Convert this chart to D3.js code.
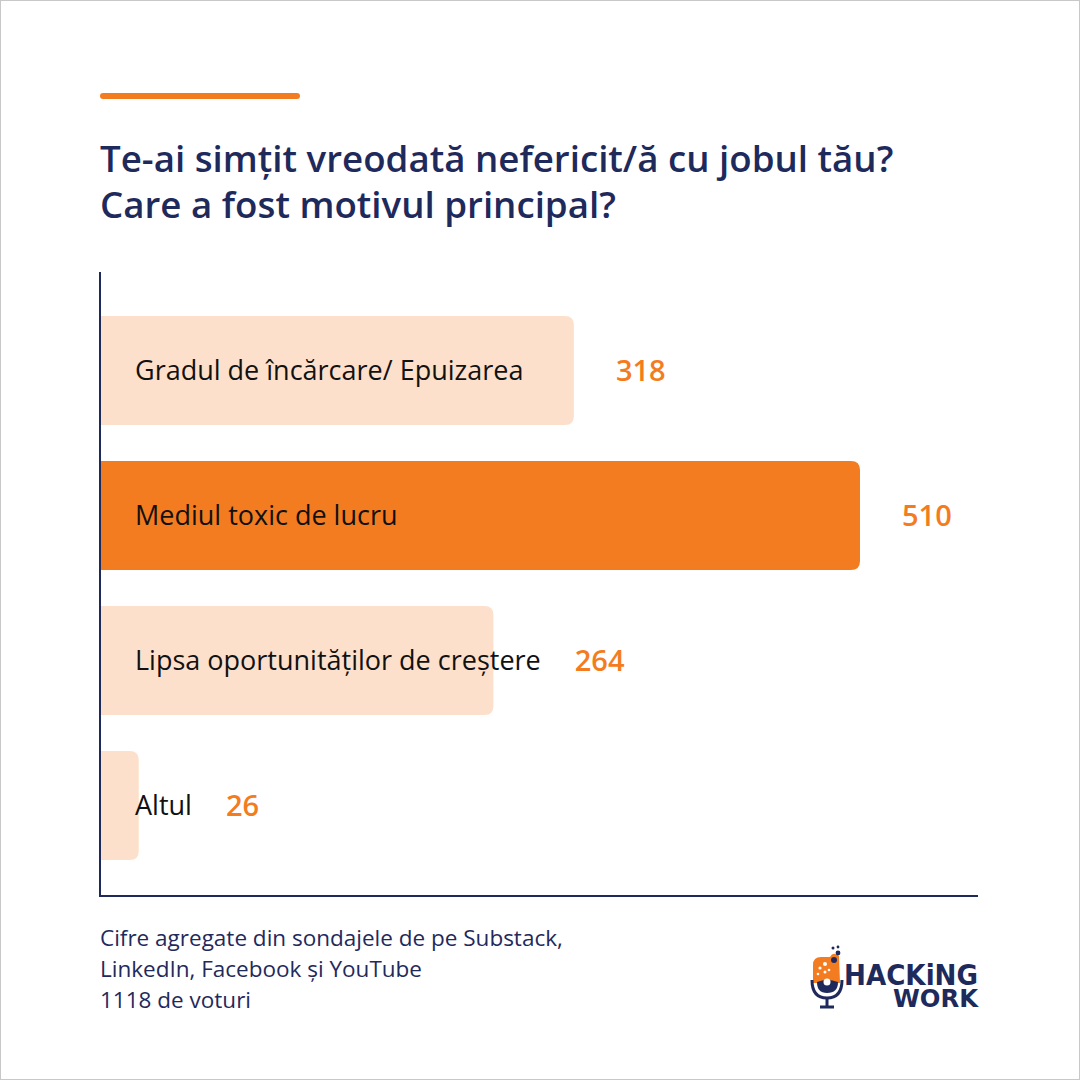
<!DOCTYPE html>
<html>
<head>
<meta charset="utf-8">
<script src="https://cdnjs.cloudflare.com/ajax/libs/d3/7.8.5/d3.min.js"></script>
<style>
  html, body { margin: 0; padding: 0; background: #fff; }
  svg { display: block; }
</style>
</head>
<body>
<script>
// chart data
var categories = ["Gradul de încărcare/ Epuizarea", "Mediul toxic de lucru", "Lipsa oportunităților de creștere", "Altul"];
var votes = [318, 510, 264, 26];
var highlight = [false, true, false, false];
var titleLines = ["Te-ai simțit vreodată nefericit/ă cu jobul tău?", "Care a fost motivul principal?"];
var footerLines = ["Cifre agregate din sondajele de pe Substack,", "LinkedIn, Facebook și YouTube", "1118 de voturi"];

var W = 1080, H = 1080;
var navy = "#1f2a5c", orange = "#f47c20", peach = "#fde0cb";
var font = "'Open Sans', Lato, sans-serif";

var svg = d3.select("body").append("svg")
  .attr("width", W)
  .attr("height", H);

// frame
svg.append("rect")
  .attr("x", 0.5).attr("y", 0.5)
  .attr("width", W - 1).attr("height", H - 1)
  .attr("fill", "#fff")
  .attr("stroke", "#c8c8c8");

// orange accent line
svg.append("line")
  .attr("x1", 103).attr("x2", 297)
  .attr("y1", 96).attr("y2", 96)
  .attr("stroke", orange)
  .attr("stroke-width", 6)
  .attr("stroke-linecap", "round");

// title
svg.append("text")
  .attr("font-family", font)
  .attr("font-size", 36.7)
  .attr("font-weight", 600)
  .attr("fill", navy)
  .selectAll("tspan")
  .data(titleLines)
  .enter()
  .append("tspan")
  .attr("x", 100)
  .attr("y", function (d, i) { return 172 + i * 46; })
  .text(function (d) { return d; });

// scales
var x = d3.scaleLinear().domain([0, 510]).range([100, 860]);
var y = d3.scaleBand().domain(categories).range([280, 896]).paddingInner(0.248).paddingOuter(0.248);

function barPath(x0, x1, y0, h, r) {
  r = Math.min(r, (x1 - x0));
  return "M" + x0 + "," + y0 +
    "H" + (x1 - r) +
    "Q" + x1 + "," + y0 + " " + x1 + "," + (y0 + r) +
    "V" + (y0 + h - r) +
    "Q" + x1 + "," + (y0 + h) + " " + (x1 - r) + "," + (y0 + h) +
    "H" + x0 + "Z";
}

var rows = svg.selectAll("g.row")
  .data(categories)
  .enter()
  .append("g")
  .attr("class", "row");

rows.append("path")
  .attr("d", function (d, i) { return barPath(x(0), x(votes[i]), y(d), y.bandwidth(), 9); })
  .attr("fill", function (d, i) { return highlight[i] ? orange : peach; });

var labels = rows.append("text")
  .attr("x", 135)
  .attr("y", function (d) { return y(d) + y.bandwidth() / 2; })
  .attr("dy", "0.35em")
  .attr("font-family", font)
  .attr("font-size", 27)
  .attr("fill", "#111")
  .text(function (d) { return d; });

rows.append("text")
  .attr("x", function (d, i) {
    var labelEnd = 135 + labels.nodes()[i].getComputedTextLength();
    return Math.max(labelEnd + 34, x(votes[i]) + 42);
  })
  .attr("y", function (d) { return y(d) + y.bandwidth() / 2; })
  .attr("dy", "0.35em")
  .attr("font-family", font)
  .attr("font-size", 29)
  .attr("font-weight", 600)
  .attr("fill", orange)
  .text(function (d, i) { return votes[i]; });

// axes lines
svg.append("path")
  .attr("d", "M100,272V896H978")
  .attr("fill", "none")
  .attr("stroke", navy)
  .attr("stroke-width", 2);

// footer
svg.append("text")
  .attr("font-family", font)
  .attr("font-size", 22.5)
  .attr("fill", navy)
  .selectAll("tspan")
  .data(footerLines)
  .enter()
  .append("tspan")
  .attr("x", 100)
  .attr("y", function (d, i) { return 946 + i * 31; })
  .text(function (d) { return d; });

// logo
var logo = svg.append("g").attr("transform", "translate(800,940)");
logo.append("path")
  .attr("d", "M13,25 Q13,17 21,17 L30,17 Q33,11 39,16 L40,43 L13,43 Z")
  .attr("fill", orange);
[[20,28,1.6],[25,32,1.5],[18,34,1.3],[29,30,1.3],[25,24,2]].forEach(function (c) {
  logo.append("circle").attr("cx", c[0]).attr("cy", c[1]).attr("r", c[2]).attr("fill", "#fff");
});
[[34,20,3],[38,13,2.4],[33,8,1.5],[38,7,1.4]].forEach(function (c) {
  logo.append("circle").attr("cx", c[0]).attr("cy", c[1]).attr("r", c[2]).attr("fill", navy);
});
logo.append("path")
  .attr("d", "M17,42 Q27,38 38,42 Q38,53 27,53 Q17,53 17,42 Z")
  .attr("fill", navy);
logo.append("circle")
  .attr("cx", 27).attr("cy", 42).attr("r", 3.5)
  .attr("fill", "#fff");
logo.append("path")
  .attr("d", "M12,40 Q12,58 27,58 Q42,58 42,40")
  .attr("fill", "none").attr("stroke", navy).attr("stroke-width", 3);
logo.append("path")
  .attr("d", "M27,58V66M20,67H34")
  .attr("fill", "none").attr("stroke", navy).attr("stroke-width", 3);

var logoText = logo.append("text")
  .attr("font-family", "'DejaVu Sans', sans-serif")
  .attr("font-weight", 700)
  .attr("fill", navy);
logoText.append("tspan")
  .attr("x", 44).attr("y", 45)
  .attr("font-size", 29)
  .attr("textLength", 134)
  .attr("lengthAdjust", "spacingAndGlyphs")
  .text("HACKiNG");
logoText.append("tspan")
  .attr("x", 93).attr("y", 67)
  .attr("font-size", 24)
  .attr("textLength", 85)
  .attr("lengthAdjust", "spacingAndGlyphs")
  .text("WORK");
</script>
</body>
</html>
